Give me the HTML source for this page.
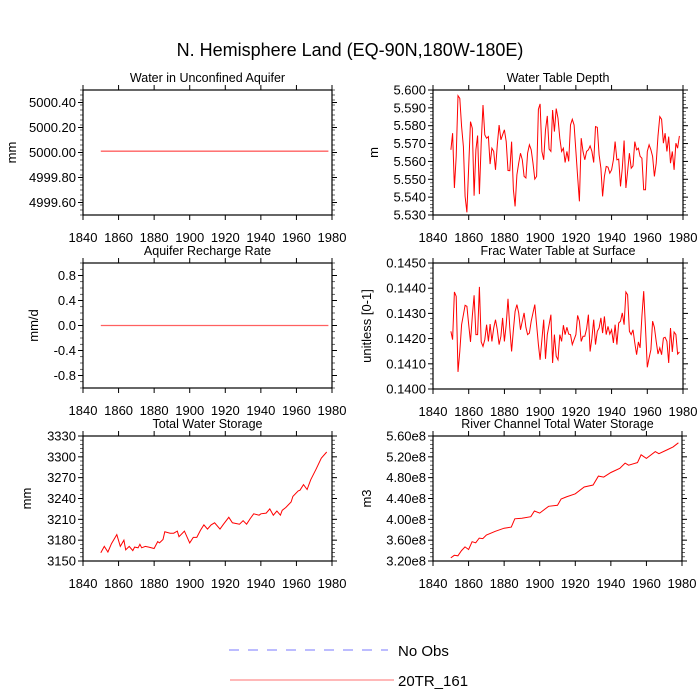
<!DOCTYPE html>
<html><head><meta charset="utf-8">
<style>
html,body{margin:0;padding:0;background:#fff;}
svg{display:block;font-family:"Liberation Sans",Arial,sans-serif;}
</style></head>
<body>
<svg id="fig" width="700" height="700" viewBox="0 0 700 700" xmlns="http://www.w3.org/2000/svg">
<text x="350" y="56" font-size="18" text-anchor="middle">N. Hemisphere Land (EQ-90N,180W-180E)</text>
<g id="plots"></g>
<g>
<line x1="229" y1="650" x2="388" y2="650" stroke="#7a7aff" stroke-width="1" stroke-dasharray="10,9"/>
<text x="398" y="656" font-size="15">No Obs</text>
<line x1="230" y1="680" x2="394" y2="680" stroke="#ff7070" stroke-width="1"/>
<text x="398" y="686" font-size="15">20TR_161</text>
</g>
</svg>
<script>
// ---------- data ----------
const xTicks = [1840,1860,1880,1900,1920,1940,1960,1980];
const aquiferYears = [1850,1978];
const aquiferValues = [5000.01,5000.01];
const rechargeYears = [1850,1978];
const rechargeValues = [0.0,0.0];
const depthStartYear = 1850;
const depthValues = [5.5665,5.5758,5.5451,5.5628,5.5968,5.5953,5.5795,5.5683,5.5404,5.5315,5.5572,5.5823,5.5786,5.5408,5.5665,5.5745,5.5417,5.5702,5.5916,5.5749,5.5730,5.5739,5.5585,5.5674,5.5656,5.5553,5.5693,5.5804,5.5721,5.5749,5.5777,5.5711,5.5549,5.5548,5.5711,5.5441,5.5348,5.5525,5.5590,5.5646,5.5609,5.5516,5.5507,5.5646,5.5693,5.5665,5.5590,5.5501,5.5516,5.5892,5.5922,5.5656,5.5609,5.5777,5.5855,5.5669,5.5656,5.5888,5.5767,5.5896,5.5842,5.5730,5.5656,5.5674,5.5594,5.5656,5.5600,5.5804,5.5836,5.5804,5.5656,5.5516,5.5376,5.5730,5.5656,5.5609,5.5656,5.5665,5.5687,5.5656,5.5594,5.5795,5.5791,5.5637,5.5562,5.5404,5.5516,5.5572,5.5568,5.5534,5.5553,5.5609,5.5711,5.5609,5.5613,5.5460,5.5562,5.5717,5.5451,5.5544,5.5646,5.5562,5.5575,5.5711,5.5665,5.5674,5.5628,5.5618,5.5441,5.5441,5.5656,5.5693,5.5665,5.5628,5.5516,5.5590,5.5743,5.5851,5.5836,5.5702,5.5758,5.5656,5.5739,5.5590,5.5656,5.5553,5.5702,5.5674,5.5743];
const fracStartYear = 1850;
const fracValues = [0.14229,0.14196,0.14385,0.14368,0.14068,0.14149,0.14255,0.14295,0.14332,0.14328,0.14255,0.14187,0.14288,0.14372,0.14216,0.14216,0.14405,0.14187,0.14169,0.14196,0.14255,0.14189,0.14258,0.14189,0.14242,0.14275,0.14235,0.14176,0.14209,0.14282,0.14189,0.14255,0.14358,0.14242,0.14149,0.14235,0.14308,0.14335,0.14302,0.14235,0.14269,0.14302,0.14245,0.14216,0.14222,0.14269,0.14302,0.14335,0.14255,0.14176,0.14116,0.14196,0.14275,0.14120,0.14216,0.14255,0.14295,0.14103,0.14216,0.14130,0.14116,0.14216,0.14189,0.14253,0.14216,0.14245,0.14218,0.14216,0.14176,0.14196,0.14216,0.14292,0.14269,0.14189,0.14209,0.14209,0.14239,0.14295,0.14149,0.14202,0.14275,0.14176,0.14229,0.14242,0.14282,0.14222,0.14288,0.14216,0.14249,0.14218,0.14235,0.14183,0.14255,0.14176,0.14262,0.14269,0.14302,0.14255,0.14385,0.14374,0.14229,0.14216,0.14235,0.14183,0.14136,0.14187,0.14163,0.14288,0.14388,0.14242,0.14086,0.14123,0.14156,0.14269,0.14245,0.14189,0.14139,0.14163,0.14136,0.14202,0.14205,0.14189,0.14103,0.14242,0.14147,0.14226,0.14216,0.14139,0.14147];
const storageYears = [1850,1852,1854,1856,1859,1861,1863,1864,1866,1868,1869,1871,1872,1873,1875,1877,1880,1882,1883,1885,1886,1889,1891,1893,1894,1897,1900,1902,1904,1906,1908,1910,1912,1914,1917,1919,1922,1924,1928,1930,1932,1934,1936,1939,1940,1943,1945,1947,1949,1951,1952,1954,1957,1958,1961,1962,1964,1966,1968,1971,1974,1977];
const storageValues = [3162,3171,3163,3175,3188,3171,3180,3166,3171,3165,3170,3169,3174,3169,3171,3170,3168,3178,3176,3181,3192,3190,3190,3193,3185,3193,3176,3184,3184,3194,3202,3196,3202,3205,3196,3203,3213,3205,3203,3208,3203,3211,3218,3216,3218,3219,3225,3216,3222,3216,3223,3227,3235,3243,3251,3252,3260,3253,3267,3282,3298,3307];
const riverYears = [1850,1852,1854,1856,1858,1860,1862,1864,1866,1868,1870,1875,1880,1884,1886,1890,1895,1897,1900,1905,1910,1912,1915,1920,1925,1930,1933,1936,1940,1945,1948,1950,1955,1957,1960,1965,1967,1972,1975,1978];
const riverValues = [3.26e8,3.31e8,3.30e8,3.40e8,3.47e8,3.42e8,3.57e8,3.55e8,3.64e8,3.63e8,3.70e8,3.77e8,3.83e8,3.85e8,4.01e8,4.02e8,4.05e8,4.16e8,4.12e8,4.25e8,4.27e8,4.39e8,4.43e8,4.49e8,4.62e8,4.66e8,4.83e8,4.81e8,4.90e8,4.98e8,5.08e8,5.04e8,5.09e8,5.24e8,5.17e8,5.30e8,5.26e8,5.34e8,5.39e8,5.47e8];
const aquiferTicks = ["4999.60","4999.80","5000.00","5000.20","5000.40"];
const rechargeTicks = ["-0.8","-0.4","0.0","0.4","0.8"];
const storageTicks = ["3150","3180","3210","3240","3270","3300","3330"];
const depthTicks = ["5.530","5.540","5.550","5.560","5.570","5.580","5.590","5.600"];
const fracTicks = ["0.1400","0.1410","0.1420","0.1430","0.1440","0.1450"];
const riverTicks = ["3.20e8","3.60e8","4.00e8","4.40e8","4.80e8","5.20e8","5.60e8"];

function seq(start,n){const a=[];for(let i=0;i<n;i++)a.push(start+i);return a;}
const panels = [
 {name:'aquifer',title:'Water in Unconfined Aquifer',ylab:'mm',L:83,R:332,T:90,B:215,ymin:4999.5,ymax:5000.5,ticks:aquiferTicks,minor:0.04,xs:aquiferYears,ys:aquiferValues,ylx:12,flat:true},
 {name:'depth',title:'Water Table Depth',ylab:'m',L:433,R:683,T:90,B:215,ymin:5.53,ymax:5.60,ticks:depthTicks,minor:0.002,xs:seq(depthStartYear,depthValues.length),ys:depthValues,ylx:374},
 {name:'recharge',title:'Aquifer Recharge Rate',ylab:'mm/d',L:83,R:332,T:263,B:388,ymin:-1,ymax:1,ticks:rechargeTicks,minor:0.1,xs:rechargeYears,ys:rechargeValues,ylx:34,flat:true},
 {name:'frac',title:'Frac Water Table at Surface',ylab:'unitless [0-1]',L:433,R:683,T:263,B:389,ymin:0.140,ymax:0.145,ticks:fracTicks,minor:0.0002,xs:seq(fracStartYear,fracValues.length),ys:fracValues,ylx:367},
 {name:'storage',title:'Total Water Storage',ylab:'mm',L:83,R:332,T:436,B:561,ymin:3150,ymax:3330,ticks:storageTicks,minor:6,xs:storageYears,ys:storageValues,ylx:27},
 {name:'river',title:'River Channel Total Water Storage',ylab:'m3',L:433,R:682,T:436,B:561,ymin:3.2e8,ymax:5.6e8,ticks:riverTicks,minor:0.08e8,xs:riverYears,ys:riverValues,ylx:367}
];
const NS='http://www.w3.org/2000/svg';
const root=document.getElementById('plots');
function mk(tag,attrs,parent){const e=document.createElementNS(NS,tag);for(const k in attrs)e.setAttribute(k,attrs[k]);parent.appendChild(e);return e;}
panels.forEach(p=>{
 const g=mk('g',{},root);
 
 
 const sx=v=>p.L+(v-1840)/140*(p.R-p.L);
 const sy=v=>p.B-(v-p.ymin)/(p.ymax-p.ymin)*(p.B-p.T);
 const fr=mk('rect',{x:p.L,y:p.T,width:p.R-p.L,height:p.B-p.T,fill:'none',stroke:'#000','stroke-width':1.2},g);
 
 
 xTicks.forEach(t=>{
  const x=sx(t);
  mk('line',{x1:x,x2:x,y1:p.B,y2:p.B+5,stroke:'#000'},g);
  mk('line',{x1:x,x2:x,y1:p.T,y2:p.T-5,stroke:'#000'},g);
  const tx=mk('text',{x:x,y:p.B+27,'font-size':13,'text-anchor':'middle'},g);
  tx.textContent=t;
  
  
 });
 const eps=(p.ymax-p.ymin)*1e-6;
 for(let v=p.ymin;v<=p.ymax+eps;v+=p.minor){
  const y=sy(v);
  mk('line',{x1:p.L,x2:p.L-3,y1:y,y2:y,stroke:'#000','stroke-width':0.6},g);
  mk('line',{x1:p.R,x2:p.R+3,y1:y,y2:y,stroke:'#000','stroke-width':0.6},g);
 }
 p.ticks.forEach(s=>{
  const v=parseFloat(s);const y=sy(v);
  mk('line',{x1:p.L,x2:p.L-5,y1:y,y2:y,stroke:'#000'},g);
  mk('line',{x1:p.R,x2:p.R+5,y1:y,y2:y,stroke:'#000'},g);
  const tx=mk('text',{x:p.L-7,y:y+4.5,'font-size':13,'text-anchor':'end'},g);
  tx.textContent=s;
  
  
 });
 const ti=mk('text',{x:(p.L+p.R)/2,y:p.T-8,'font-size':12.5,'text-anchor':'middle'},g);
 ti.textContent=p.title;
 
 
 const cy=(p.T+p.B)/2;
 const yl=mk('text',{x:p.ylx,y:cy,'font-size':13,'text-anchor':'middle',transform:`rotate(-90 ${p.ylx} ${cy})`,dy:4},g);
 yl.textContent=p.ylab;
 
 
 const pts=p.xs.map((x,i)=>sx(x).toFixed(1)+','+sy(p.ys[i]).toFixed(1)).join(' ');
 const ln=mk('polyline',{points:pts,fill:'none',stroke:p.flat?'#ff6060':'#ff0000','stroke-width':p.flat?1.3:1},g);
 
 
});
</script>
</body></html>
